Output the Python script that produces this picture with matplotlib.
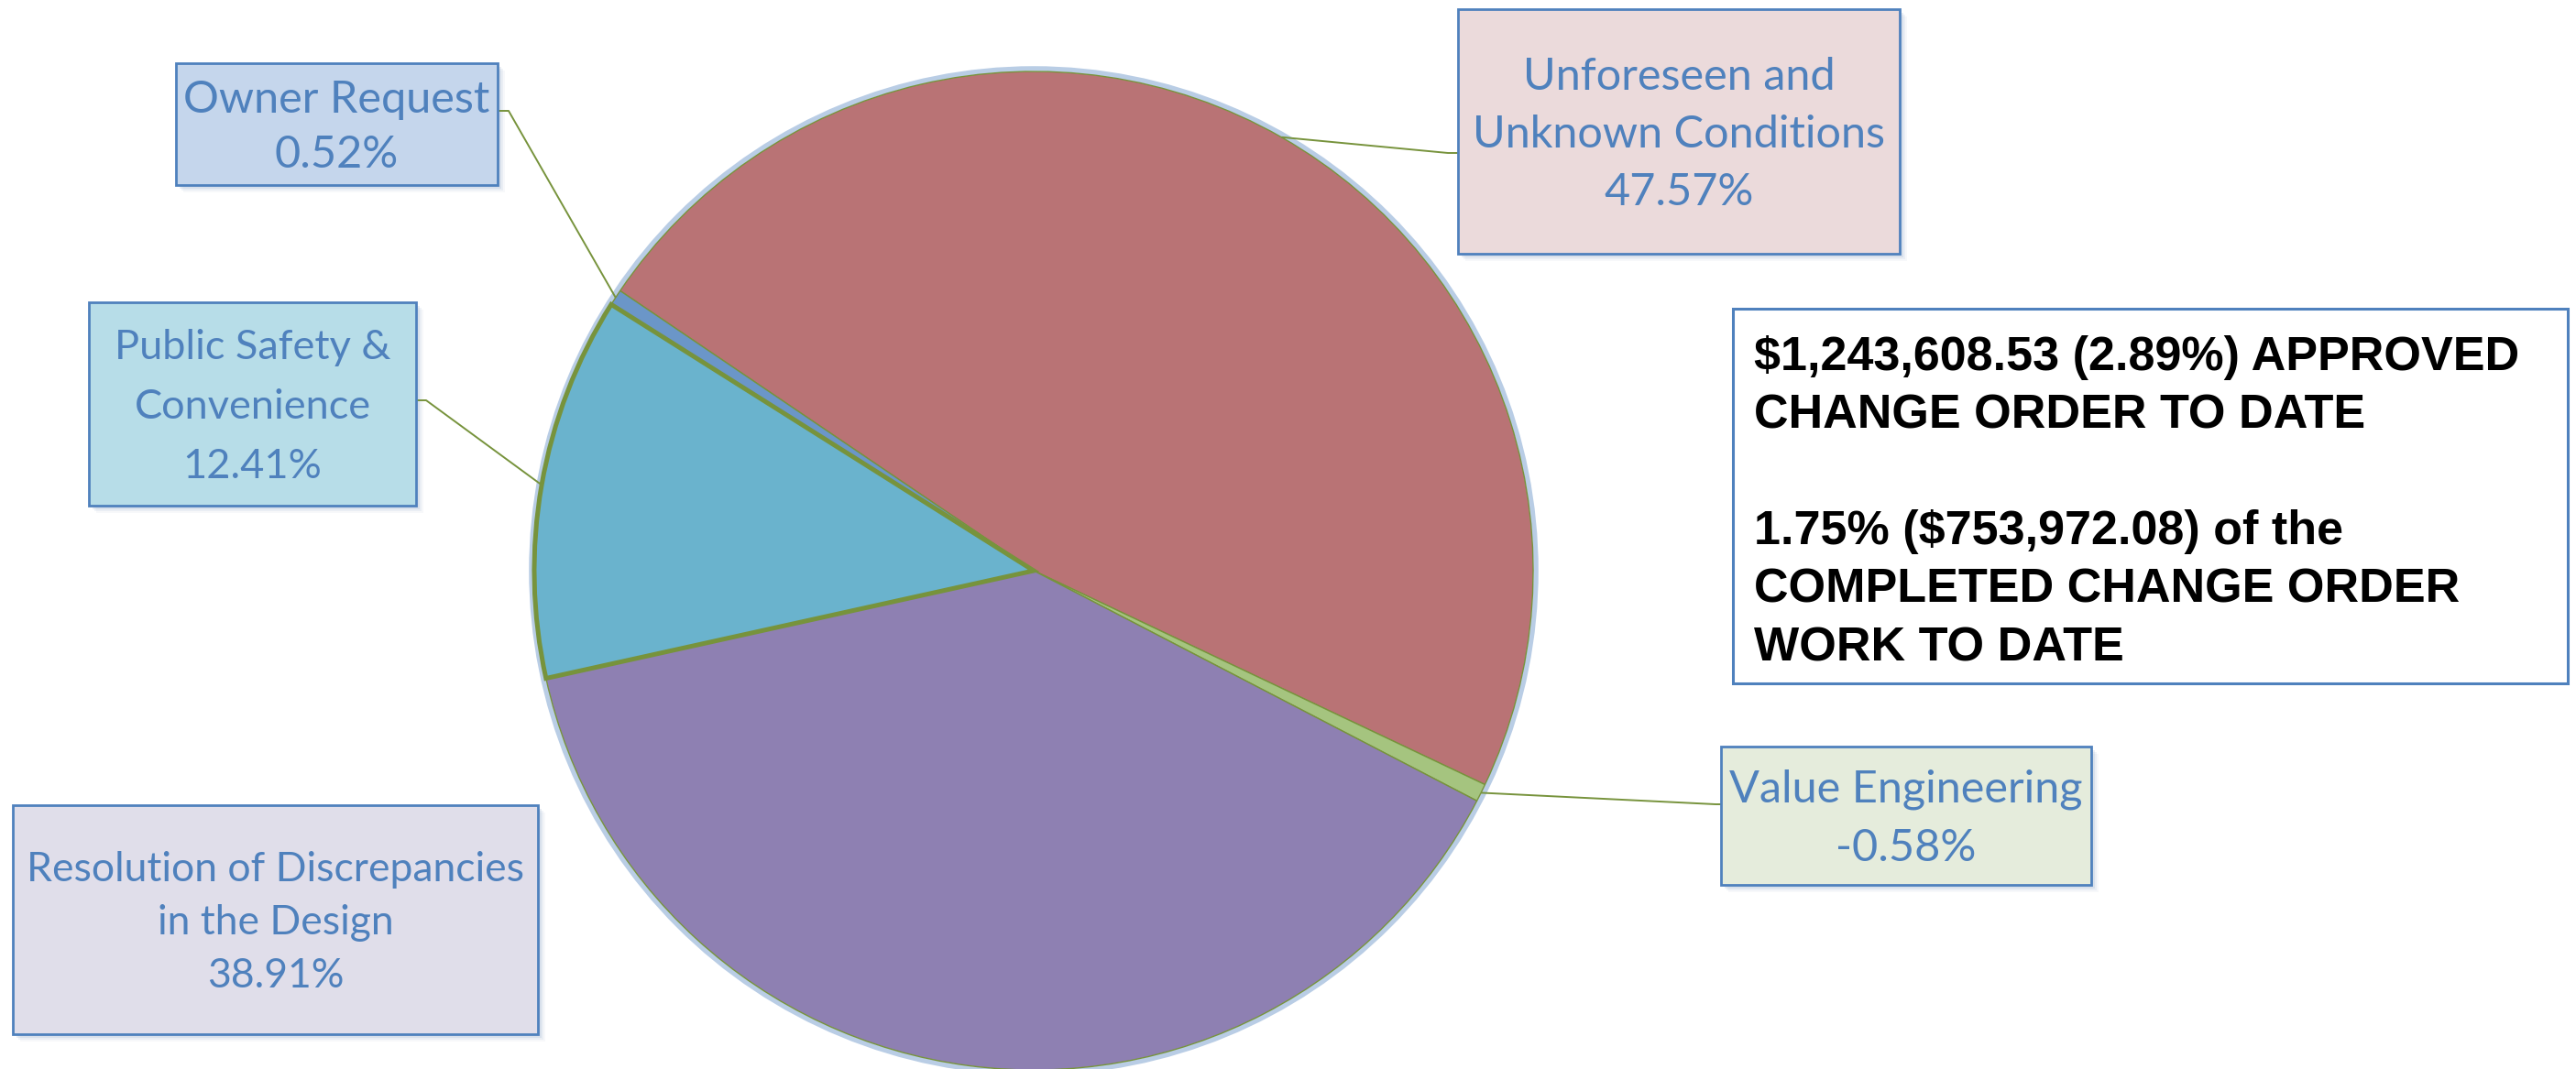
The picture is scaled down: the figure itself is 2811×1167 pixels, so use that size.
import numpy as np
import matplotlib
matplotlib.use("Agg")
import matplotlib.pyplot as plt
from matplotlib.patches import Rectangle, Circle

# ---------------- data ----------------
categories = ["Unforeseen and\nUnknown Conditions", "Value Engineering",
              "Resolution of Discrepancies\nin the Design",
              "Public Safety &\nConvenience", "Owner Request"]
percent_values = [47.57, -0.58, 38.91, 12.41, 0.52]
pct_labels = ["47.57%", "-0.58%", "38.91%", "12.41%", "0.52%"]
summary_lines = ["$1,243,608.53 (2.89%) APPROVED", "CHANGE ORDER TO DATE", "",
                 "1.75% ($753,972.08) of the", "COMPLETED CHANGE ORDER",
                 "WORK TO DATE"]

# ---------------- styles ----------------
slice_colors = ["#B97375", "#A5C47F", "#8E80B2", "#6AB3CD", "#6B96C8"]
box_fills = ["#EBDADB", "#E5ECDC", "#E0DEEA", "#B7DDE8", "#C5D6EC"]
OLIVE = "#77933C"
BLUE = "#4F81BD"

W, H = 2811, 1167
fig = plt.figure(figsize=(W / 100, H / 100), dpi=100)
ax = fig.add_axes([0, 0, 1, 1])


def Y(y):
    return H - y


CX, CY, R = 1128, Y(623), 545
sizes = [abs(v) for v in percent_values]
wedges, _ = ax.pie(sizes, colors=slice_colors, startangle=145.9,
                   counterclock=False, center=(CX, CY), radius=R,
                   frame=True,
                   wedgeprops=dict(edgecolor=OLIVE, linewidth=1.0))
wedges[3].set_linewidth(3.6)
wedges[3].set_zorder(3)
ax.add_patch(Circle((CX, CY), R + 3, facecolor="none", edgecolor="#B9CDE5",
                    lw=4, zorder=0.5))

ax.set_xlim(0, W)
ax.set_ylim(0, H)
ax.axis("off")

# label boxes (image coords x0, y0, x1, y1)
boxes = [(1591, 10, 2073, 277), (1878, 815, 2282, 966), (14, 879, 587, 1129),
         (97, 330, 454, 552), (192, 69, 543, 202)]
# leader: box anchor and elbow (image coords); None for no leader
leaders = [((1591, 167), (1580, 167)), ((1878, 878), (1872, 878)), None,
           ((454, 437), (465, 437)), ((543, 121), (555, 121))]
line_step = [63, 64, 58, 65, 60]
font_sizes = [35, 35, 32, 32.5, 35]

for i, (x0, y0, x1, y1) in enumerate(boxes):
    # shadow
    for k, a in enumerate([0.18, 0.12, 0.07]):
        off = 4 + 2 * k
        ax.add_patch(Rectangle((x0 + off, Y(y1 + off)), x1 - x0, y1 - y0,
                               facecolor="#8FA6C6", edgecolor="none", alpha=a,
                               zorder=4))
    ax.add_patch(Rectangle((x0, Y(y1)), x1 - x0, y1 - y0, facecolor=box_fills[i],
                           edgecolor=BLUE, lw=2.0, zorder=5))
    lines = categories[i].split("\n") + [pct_labels[i]]
    cy = (y0 + y1) / 2
    n = len(lines)
    cap = font_sizes[i] * 100 / 72 * 0.7165
    for j, t in enumerate(lines):
        ly = cy + (j - (n - 1) / 2) * line_step[i]
        ax.text((x0 + x1) / 2, Y(ly + cap / 2), t, ha="center", va="baseline",
                color=BLUE, fontsize=font_sizes[i],
                family=["Lato", "DejaVu Sans"], zorder=6)
    if leaders[i] is not None:
        w = wedges[i]
        mid = np.deg2rad((w.theta1 + w.theta2) / 2)
        px, py = CX + R * np.cos(mid), CY + R * np.sin(mid)
        (ax_, ay_), (ex, ey) = leaders[i]
        ax.plot([ax_, ex, px], [Y(ay_), Y(ey), py], color=OLIVE, lw=1.4,
                zorder=4, solid_capstyle="butt")

# summary box
ax.add_patch(Rectangle((1891, Y(746)), 2802 - 1891, 746 - 337, facecolor="white",
                       edgecolor=BLUE, lw=2.2, zorder=5))
for j, t in enumerate(summary_lines):
    ly = 385 + j * 63.4
    if t:
        ax.text(1914, Y(ly + 19), t, ha="left", va="baseline", color="black",
                fontsize=37.5, fontweight="bold",
                family=["Liberation Sans", "DejaVu Sans"], zorder=6)

fig.savefig("out.png", dpi=100, facecolor="white")
